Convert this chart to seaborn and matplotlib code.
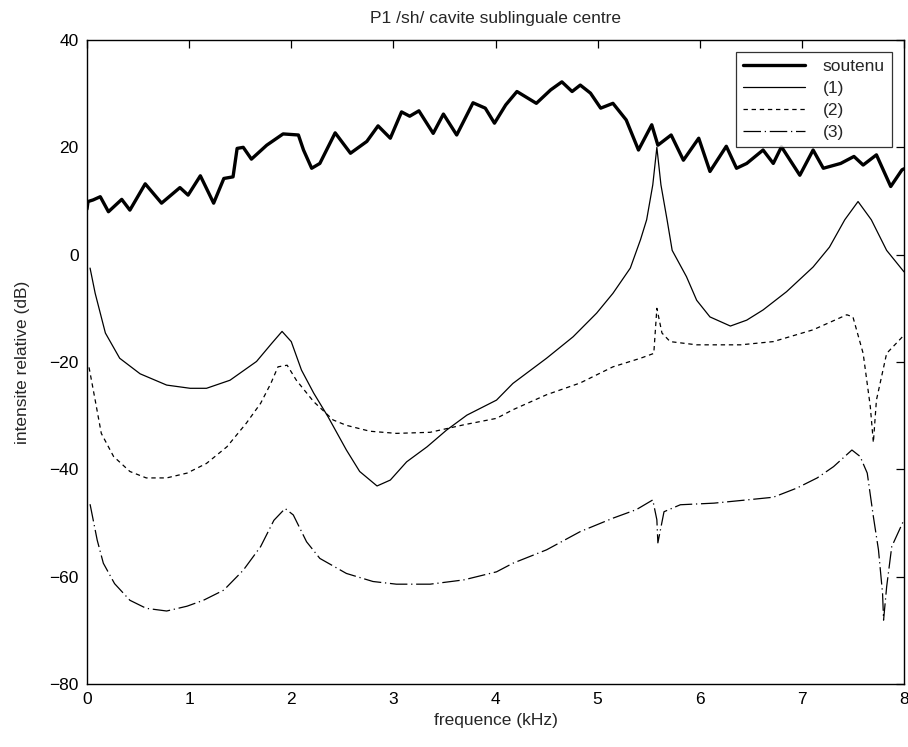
import matplotlib
matplotlib.use("Agg")
import matplotlib.pyplot as plt
import seaborn as sns
import pandas as pd

# ---- data ----
soutenu_x = [0.00, 0.01, 0.06, 0.13, 0.21, 0.34, 0.42, 0.57, 0.73, 0.91, 0.99, 1.11, 1.24, 1.34,
             1.43, 1.47, 1.53, 1.61, 1.76, 1.92, 2.07, 2.12, 2.20, 2.28, 2.43, 2.58, 2.74, 2.85,
             2.97, 3.08, 3.16, 3.25, 3.39, 3.49, 3.62, 3.78, 3.90, 3.99, 4.10, 4.21, 4.40, 4.54,
             4.65, 4.75, 4.83, 4.93, 5.03, 5.15, 5.28, 5.40, 5.53, 5.59, 5.72, 5.84, 5.99, 6.10,
             6.26, 6.36, 6.46, 6.62, 6.72, 6.80, 6.98, 7.11, 7.21, 7.38, 7.51, 7.60, 7.73, 7.87,
             7.98, 8.00]
soutenu_y = [8.5, 9.9, 10.2, 10.8, 8.0, 10.3, 8.3, 13.2, 9.6, 12.5, 11.1, 14.7, 9.6, 14.2,
             14.5, 19.8, 20.0, 17.8, 20.4, 22.5, 22.3, 19.5, 16.1, 17.0, 22.7, 18.9, 21.1, 24.0,
             21.7, 26.6, 25.8, 26.8, 22.6, 26.2, 22.3, 28.3, 27.3, 24.5, 27.9, 30.4, 28.2, 30.7,
             32.2, 30.4, 31.6, 30.1, 27.3, 28.2, 25.1, 19.5, 24.2, 20.4, 22.3, 17.6, 21.7, 15.5,
             20.2, 16.1, 17.0, 19.5, 17.0, 20.1, 14.8, 19.5, 16.1, 17.0, 18.3, 16.7, 18.6, 12.7,
             15.8, 16.0]

s1_x = [0.03, 0.08, 0.13, 0.18, 0.32, 0.52, 0.78, 1.01, 1.17, 1.40, 1.66, 1.81, 1.91, 2.00,
        2.10, 2.22, 2.36, 2.54, 2.67, 2.84, 2.97, 3.13, 3.33, 3.52, 3.72, 4.01, 4.17, 4.50,
        4.76, 4.99, 5.15, 5.32, 5.42, 5.48, 5.54, 5.58, 5.62, 5.68, 5.73, 5.87, 5.97, 6.10,
        6.30, 6.46, 6.62, 6.85, 7.11, 7.27, 7.42, 7.55, 7.68, 7.83, 8.00]
s1_y = [-2.5, -7.2, -10.9, -14.6, -19.3, -22.2, -24.3, -24.9, -24.9, -23.4, -19.9, -16.5, -14.3, -16.2,
        -21.5, -25.8, -30.2, -36.4, -40.4, -43.1, -42.0, -38.6, -35.8, -32.7, -29.9, -27.1, -24.0, -19.3,
        -15.3, -10.9, -7.2, -2.5, 2.8, 6.5, 13.0, 20.0, 13.0, 6.5, 0.8, -4.1, -8.5, -11.6,
        -13.3, -12.2, -10.3, -6.9, -2.3, 1.4, 6.5, 9.9, 6.5, 0.8, -3.2]

s2_x = [0.02, 0.08, 0.14, 0.26, 0.42, 0.58, 0.78, 0.98, 1.17, 1.37, 1.56, 1.70, 1.80, 1.87,
        1.96, 2.05, 2.22, 2.41, 2.54, 2.77, 3.03, 3.36, 3.69, 4.01, 4.17, 4.50, 4.83, 5.15,
        5.42, 5.55, 5.58, 5.63, 5.71, 5.97, 6.40, 6.72, 7.11, 7.44, 7.50, 7.60, 7.67, 7.70,
        7.73, 7.83, 8.00]
s2_y = [-21.0, -27.1, -33.3, -37.6, -40.4, -41.6, -41.6, -40.7, -38.9, -35.8, -31.4, -27.7, -24.0, -20.9,
        -20.6, -23.4, -27.4, -30.8, -31.8, -32.9, -33.3, -33.1, -31.7, -30.5, -28.9, -26.1, -23.9, -20.9,
        -19.3, -18.4, -10.0, -14.6, -16.2, -16.8, -16.8, -16.2, -14.0, -11.2, -11.6, -18.4, -28.3, -35.0,
        -27.1, -18.4, -15.0]

s3_x = [0.03, 0.10, 0.16, 0.27, 0.42, 0.58, 0.78, 0.98, 1.14, 1.34, 1.53, 1.70, 1.83, 1.94,
        2.02, 2.15, 2.28, 2.54, 2.80, 3.03, 3.36, 3.69, 4.01, 4.17, 4.50, 4.83, 5.15, 5.38,
        5.54, 5.58, 5.59, 5.65, 5.81, 6.14, 6.46, 6.72, 6.95, 7.15, 7.31, 7.49, 7.57, 7.64,
        7.70, 7.75, 7.79, 7.80, 7.83, 7.88, 7.94, 8.00]
s3_y = [-46.5, -53.2, -57.5, -61.3, -64.4, -65.9, -66.4, -65.5, -64.4, -62.5, -58.8, -54.4, -49.5, -47.3,
        -48.5, -53.5, -56.6, -59.4, -60.9, -61.4, -61.4, -60.6, -59.1, -57.5, -55.0, -51.6, -49.1, -47.5,
        -45.7, -49.4, -53.7, -47.9, -46.6, -46.3, -45.7, -45.2, -43.5, -41.6, -39.5, -36.4, -37.6, -40.7,
        -48.8, -55.0, -63.1, -68.1, -61.9, -54.4, -51.9, -49.4]

labels = ["soutenu", "(1)", "(2)", "(3)"]
x_ticks = [0, 1, 2, 3, 4, 5, 6, 7, 8]
y_ticks = [-80, -60, -40, -20, 0, 20, 40]

# ---- figure ----
sns.set_style("white")
plt.rcParams["font.family"] = ["Liberation Sans", "DejaVu Sans"]
plt.rcParams["font.size"] = 12

FS = 12.5
fig = plt.figure(figsize=(9.08, 7.47), dpi=100)
ax = fig.add_axes([87 / 908, 1 - 684 / 747, 817 / 908, 644 / 747])

series = [(soutenu_x, soutenu_y), (s1_x, s1_y), (s2_x, s2_y), (s3_x, s3_y)]
styles = [dict(lw=2.4, ls="-"),
          dict(lw=0.9, ls="-"),
          dict(lw=0.9, ls=(0, (3.5, 3))),
          dict(lw=0.9, ls=(0, (14, 3, 1, 3)))]
for (xs, ys), lab, st in zip(series, labels, styles):
    df = pd.DataFrame({"x": xs, "y": ys})
    sns.lineplot(data=df, x="x", y="y", ax=ax, color="black", label=lab,
                 linewidth=st["lw"], linestyle=st["ls"], sort=False, estimator=None)

ax.set_xlim(0, 8)
ax.set_ylim(-80, 40)
ax.set_xticks(x_ticks)
ax.set_yticks(y_ticks)
ax.tick_params(direction="in", top=True, right=True, length=6, width=0.9,
               labelsize=FS, colors="black", pad=6)
for sp in ax.spines.values():
    sp.set_visible(True)
    sp.set_color("black")
    sp.set_linewidth(1.0)
ax.set_xlabel("frequence (kHz)", fontsize=FS, labelpad=4)
ax.set_ylabel("intensite relative (dB)", fontsize=FS, labelpad=14)
ax.set_title("P1 /sh/ cavite sublinguale centre", fontsize=FS, pad=12)

leg = ax.legend(loc="upper right", bbox_to_anchor=(0.985, 0.981), borderaxespad=0,
                frameon=True, fancybox=False, fontsize=FS, handlelength=3.6,
                labelspacing=0.38, borderpad=0.4, handletextpad=1.0)
leg.get_frame().set_edgecolor("black")
leg.get_frame().set_linewidth(0.9)

fig.savefig("out.png", dpi=100)
